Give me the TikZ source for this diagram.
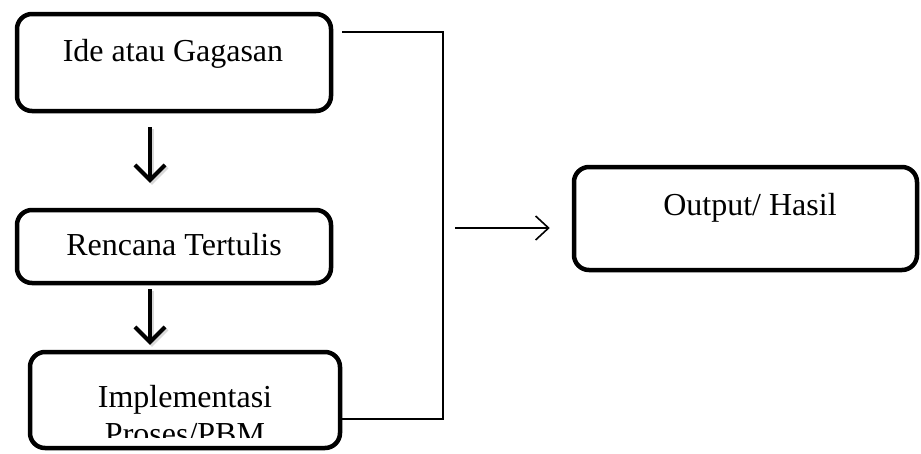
\documentclass[tikz,border=0pt]{standalone}
\usepackage{fontspec}
\setmainfont{Liberation Serif}
\usetikzlibrary{arrows.meta,calc}
\begin{document}
\begin{tikzpicture}[x=1pt,y=-1pt,
  box/.style={draw=black, line width=4.5pt, rounded corners=15pt, inner sep=0pt},
  txt/.style={font=\fontsize{32}{37}\selectfont, inner sep=0pt, anchor=base},
  link/.style={draw=black, line width=2pt},
  bigarrow/.style={draw=black, line width=4pt,
    -{Straight Barb[length=15pt,width=30pt,line width=4pt]}},
  shade/.style={draw=black!25, line width=4pt, opacity=0.6,
    -{Straight Barb[length=15pt,width=30pt,line width=4pt]}},
  thinarrow/.style={draw=black, line width=1.6pt,
    -{Straight Barb[length=13pt,width=24pt,line width=1.6pt]}}]
\useasboundingbox (0,0) rectangle (921,453);

% boxes
\node[box, minimum width=314pt, minimum height=97pt] (ide) at (174,62.5) {};
\node[box, minimum width=314pt, minimum height=73pt] (ren) at (174,246.5) {};
\node[box, minimum width=310pt, minimum height=96pt] (imp) at (185,400) {};
\node[box, minimum width=343pt, minimum height=103pt] (out) at (745.5,218.5) {};

% labels
\node[txt] (ideT) at (173,61) {Ide atau Gagasan};
\node[txt] (renT) at (174,255) {Rencana Tertulis};
\node[txt] (impT) at (185,407) {Implementasi};
\begin{scope}
  \clip (0,0) rectangle (921,437);
  \node[txt] (impT2) at (185,444) {Proses/PBM};
\end{scope}
\node[txt] (outT) at (750,215) {Output/ Hasil};

% vertical flow arrows
\draw[shade] ([xshift=-22pt,yshift=-16pt]ide.south) -- ([xshift=-22pt,yshift=23pt]ren.north);
\draw[bigarrow] ([xshift=-24pt,yshift=-14pt]ide.south) -- ([xshift=-24pt,yshift=25pt]ren.north);
\draw[shade] ([xshift=-22pt,yshift=-6pt]ren.south) -- ([xshift=-33pt,yshift=3pt]imp.north);
\draw[bigarrow] ([xshift=-24pt,yshift=-4pt]ren.south) -- ([xshift=-35pt,yshift=5pt]imp.north);

% bracket joining the flow to the output
\coordinate (ideOut) at (342,32);
\coordinate (busTop) at (443,32);
\coordinate (busBot) at (443,419);
\draw[link] (ideOut) -- (busTop) -- (busBot) -- (imp.east |- busBot);

\coordinate (arrStart) at (455,228);
\draw[thinarrow, shorten >=22pt] (arrStart) -- (out.west |- arrStart);
\end{tikzpicture}
\end{document}
